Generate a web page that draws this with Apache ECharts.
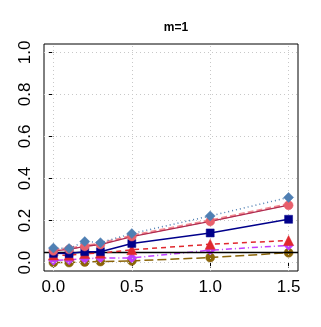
<!DOCTYPE html>
<html>
<head>
<meta charset="utf-8">
<script src="https://cdn.jsdelivr.net/npm/echarts@6/dist/echarts.min.js"></script>
<style>
  html, body { margin: 0; padding: 0; background: #fff; }
  #chart { width: 321px; height: 327px; }
</style>
</head>
<body>
<div id="chart"></div>
<script>
// x values and tick labels
var xVals = [0, 0.1, 0.2, 0.3, 0.5, 1.0, 1.5];
var xTicks = [0, 0.5, 1.0, 1.5];
var yTicks = [0, 0.2, 0.4, 0.6, 0.8, 1.0];
var refLevel = 0.05;

// series values
var steelDiamond = [0.069, 0.067, 0.100, 0.095, 0.138, 0.222, 0.310];
var pinkDashed = [0.062, 0.066, 0.080, 0.090, 0.128, 0.200, 0.278];
var crimsonCircle = [0.056, 0.063, 0.077, 0.086, 0.124, 0.196, 0.273];
var navySquare = [0.044, 0.043, 0.052, 0.052, 0.091, 0.141, 0.206];
var redTriangle = [0.036, 0.035, 0.043, 0.045, 0.061, 0.087, 0.105];
var purpleDiamond = [0.011, 0.013, 0.018, 0.022, 0.022, 0.059, 0.082];
var oliveCircle = [0.000, 0.000, 0.003, 0.005, 0.008, 0.024, 0.047];

function pairs(vals) {
    var out = [];
    for (var i = 0; i < xVals.length; i++) {
        out.push([xVals[i], vals[i]]);
    }
    return out;
}

function lineSeries(name, vals, color, lineColor, dash, symbol, size, width, z) {
    return {
        name: name,
        type: 'line',
        data: pairs(vals),
        symbol: symbol,
        symbolSize: size,
        z: z,
        itemStyle: { color: color, borderColor: color, borderWidth: 0.5 },
        lineStyle: { color: lineColor, width: width, type: dash },
        emphasis: { disabled: true },
        animation: false
    };
}

var gridLine = { color: '#c8c8c8', width: 1, type: [1, 3] };
var gridMarks = [];
xTicks.forEach(function (v) { gridMarks.push({ xAxis: v }); });
yTicks.forEach(function (v) { gridMarks.push({ yAxis: v }); });

var chart = echarts.init(document.getElementById('chart'), null, { renderer: 'canvas' });
chart.setOption({
    animation: false,
    title: {
        text: 'm=1',
        left: 171,
        top: 17,
        textAlign: 'center',
        textStyle: { fontFamily: 'Liberation Sans', fontSize: 12, fontWeight: 'bold', color: '#000' }
    },
    grid: {
        left: 44, right: 23, top: 44, bottom: 56,
        show: true, borderColor: '#000', borderWidth: 1, backgroundColor: 'transparent'
    },
    xAxis: {
        type: 'value',
        min: -0.06,
        max: 1.56,
        axisLine: { show: false },
        splitLine: { show: false },
        axisTick: { show: true, customValues: xTicks, length: 5, lineStyle: { color: '#000' } },
        axisLabel: {
            customValues: xTicks,
            margin: 8,
            fontFamily: 'Liberation Sans',
            fontSize: 17,
            color: '#000',
            formatter: function (v) { return v.toFixed(1); }
        }
    },
    yAxis: {
        type: 'value',
        min: -0.04,
        max: 1.04,
        axisLine: { show: false },
        splitLine: { show: false },
        axisTick: { show: true, customValues: yTicks, length: 5, lineStyle: { color: '#000' } },
        axisLabel: {
            customValues: yTicks,
            rotate: 90,
            margin: 10,
            fontFamily: 'Liberation Sans',
            fontSize: 17,
            color: '#000',
            formatter: function (v) { return v.toFixed(1); }
        }
    },
    series: [
        {
            name: 'grid',
            type: 'line',
            data: [],
            silent: true,
            z: 1,
            markLine: {
                silent: true,
                symbol: ['none', 'none'],
                label: { show: false },
                lineStyle: gridLine,
                data: gridMarks,
                animation: false
            }
        },
        lineSeries('olive', oliveCircle, '#8b6508', '#8b6508', [9, 4], 'circle', 9, 1.5, 3),
        lineSeries('purple', purpleDiamond, '#bf3eff', '#bf3eff', [1, 3, 6, 3], 'diamond', 10, 1.5, 4),
        lineSeries('red', redTriangle, '#e0282e', '#e0282e', [5, 4], 'triangle', 10, 1.5, 5),
        lineSeries('navy', navySquare, '#00008b', '#00008b', 'solid', 'rect', 8, 1.5, 6),
        lineSeries('pink', pinkDashed, '#f28c94', '#f28c94', [6, 3], 'none', 0, 2.5, 7),
        lineSeries('crimson', crimsonCircle, '#e8606c', '#b02c50', 'solid', 'circle', 9, 1.3, 8),
        lineSeries('steel', steelDiamond, '#4f7fb3', '#4f7fb3', [1, 3], 'diamond', 10, 1.5, 9),
        {
            name: 'ref',
            type: 'line',
            data: [],
            z: 10,
            markLine: {
                silent: true,
                symbol: ['none', 'none'],
                label: { show: false },
                lineStyle: { color: '#000', width: 1.3, type: 'solid' },
                data: [{ yAxis: refLevel }],
                animation: false
            }
        }
    ]
});
</script>
</body>
</html>
